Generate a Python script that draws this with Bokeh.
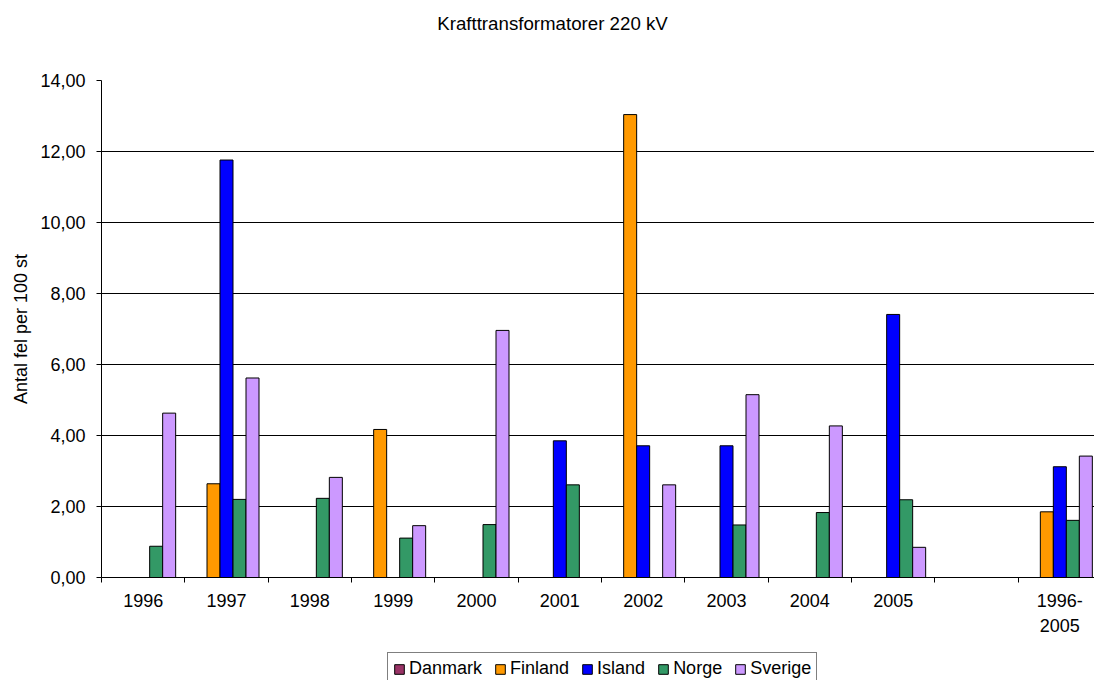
from bokeh.plotting import figure
from bokeh.layouts import column
from bokeh.models import (FixedTicker, Range1d, ColumnDataSource, Legend, LegendItem, Label, Grid)
from bokeh.embed import file_html
from bokeh.resources import INLINE

nan = float("nan")

title_text = "Krafttransformatorer 220 kV"
y_label = "Antal fel per 100 st"
categories = ["1996", "1997", "1998", "1999", "2000", "2001", "2002", "2003",
              "2004", "2005", "", "1996-\n2005"]
series_names = ["Danmark", "Finland", "Island", "Norge", "Sverige"]
danmark = [0, 0, 0, 0, 0, 0, 0, 0, 0, 0, nan, 0]
finland = [0, 2.64, 0, 4.17, 0, 0, 13.04, 0, 0, 0, nan, 1.85]
island = [0, 11.76, 0, 0, 0, 3.85, 3.71, 3.71, 0, 7.41, nan, 3.12]
norge = [0.88, 2.20, 2.23, 1.11, 1.49, 2.61, 0, 1.48, 1.83, 2.19, nan, 1.61]
sverige = [4.63, 5.62, 2.82, 1.46, 6.96, 0, 2.61, 5.15, 4.27, 0.85, nan, 3.42]
y_ticks = [0, 2, 4, 6, 8, 10, 12, 14]

colors = ["#993366", "#FF9900", "#0000FF", "#339966", "#CC99FF"]
FONT = "Liberation Sans"
W = 1094
LEFT = 101  # left border of the plotting frame (all strips are aligned on it)

n = len(categories)
centers = [i + 0.5 for i in range(n)]
bounds = [float(i) for i in range(n + 1)]
all_series = [danmark, finland, island, norge, sverige]


def bare_fig(h):
    # data coordinates of these strips equal page pixels
    f = figure(width=W, height=h, x_range=Range1d(LEFT, W), y_range=Range1d(0, h),
               output_backend="svg", toolbar_location=None,
               x_axis_location=None, y_axis_location=None, min_border=0)
    f.outline_line_color = None
    f.grid.grid_line_color = None
    f.background_fill_color = "white"
    f.border_fill_color = "white"
    return f


# ---- title strip ----
title_fig = bare_fig(50)
title_fig.add_layout(Label(x=552, y=27.5, text=title_text, text_align="center",
                           text_baseline="middle", text_font=FONT, text_font_size="18.7px",
                           text_color="black"))

# ---- main chart ----
p = figure(width=W, height=600,
           x_range=Range1d(0, 11.916), y_range=Range1d(0, 14),
           output_backend="svg", toolbar_location=None,
           min_border_left=LEFT, min_border_top=30, min_border_right=0,
           min_border_bottom=73)
p.background_fill_color = "white"
p.border_fill_color = "white"
p.outline_line_color = None

bar_w = 0.156
for k, vals in enumerate(all_series):
    src = ColumnDataSource(dict(x=[c + (k - 2) * bar_w for c in centers], top=vals))
    p.vbar(x="x", top="top", bottom=0, width=bar_w, source=src,
           fill_color=colors[k], line_color="black", line_width=1)

# Y axis
p.yaxis.ticker = FixedTicker(ticks=y_ticks)
p.yaxis.major_label_overrides = {v: f"{v:.2f}".replace(".", ",") for v in y_ticks}
p.yaxis.major_tick_out = 5
p.yaxis.major_tick_in = 0
p.yaxis.minor_tick_line_color = None
p.yaxis.axis_line_color = "black"
p.yaxis.major_tick_line_color = "black"
p.yaxis.major_label_text_font = FONT
p.yaxis.major_label_text_font_size = "18px"
p.yaxis.major_label_text_color = "black"
p.yaxis.major_label_standoff = 11
p.yaxis.axis_label = y_label
p.yaxis.axis_label_text_font = FONT
p.yaxis.axis_label_text_font_size = "18px"
p.yaxis.axis_label_text_font_style = "normal"
p.yaxis.axis_label_text_color = "black"
p.yaxis.axis_label_standoff = 6

# Grid
p.ygrid.ticker = FixedTicker(ticks=y_ticks[1:-1])
p.ygrid.grid_line_color = "black"
p.ygrid.grid_line_width = 1
p.xgrid.grid_line_color = None
p.add_layout(Grid(dimension=1, ticker=FixedTicker(ticks=y_ticks[-1:]),
                  grid_line_color="#999999", grid_line_width=1))

# X axis
p.xaxis.ticker = FixedTicker(ticks=centers, minor_ticks=bounds)
p.xaxis.major_label_overrides = {c: lab for c, lab in zip(centers, categories)}
p.xaxis.major_tick_line_color = None
p.xaxis.major_tick_out = 0
p.xaxis.major_tick_in = 0
p.xaxis.minor_tick_out = 5
p.xaxis.minor_tick_in = 0
p.xaxis.minor_tick_line_color = "black"
p.xaxis.axis_line_color = "black"
p.xaxis.major_label_text_font = FONT
p.xaxis.major_label_text_font_size = "18px"
p.xaxis.major_label_text_color = "black"
p.xaxis.major_label_standoff = 8
p.xaxis.major_label_text_line_height = 1.25

# ---- legend strip ----
# Hidden copies of the series supply the legend swatches.
leg_fig = bare_fig(30)
leg_renderers = []
for k, vals in enumerate(all_series):
    r = leg_fig.vbar(x=centers, top=vals, bottom=0, width=bar_w, fill_color=colors[k],
                     line_color="black", line_width=1, visible=False)
    leg_renderers.append(r)
legend = Legend(items=[LegendItem(label=nm, renderers=[r]) for nm, r in zip(series_names, leg_renderers)],
                orientation="horizontal", location=(387 - LEFT, -5))
legend.border_line_color = "black"
legend.border_line_width = 1
legend.background_fill_color = "white"
legend.background_fill_alpha = 1
legend.inactive_fill_alpha = 0
legend.label_text_font = FONT
legend.label_text_font_size = "18px"
legend.label_text_color = "black"
legend.glyph_width = 12
legend.glyph_height = 12
legend.label_standoff = 4
legend.spacing = 12
legend.padding = 5
legend.margin = 0
legend.label_height = 16
leg_fig.add_layout(legend, "center")

layout = column(title_fig, p, leg_fig, spacing=0)
open("out.html", "w").write(file_html(layout, INLINE))
